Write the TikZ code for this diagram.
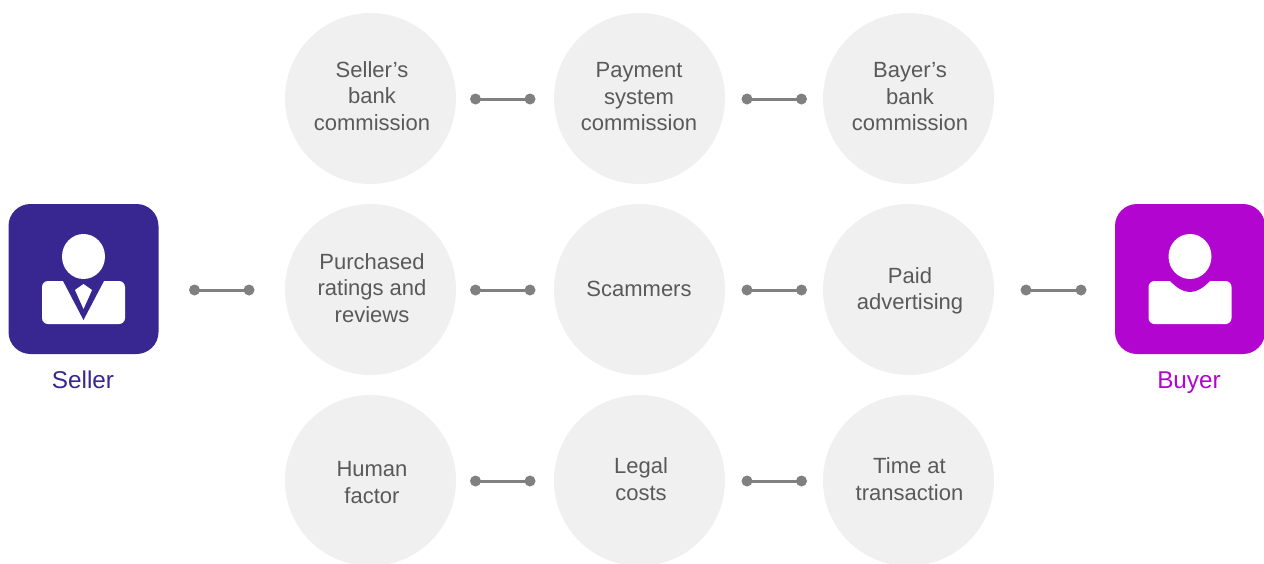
\documentclass[tikz,border=0pt]{standalone}
\usepackage{fontspec}
\setmainfont{Liberation Sans}
\definecolor{sellerc}{HTML}{382791}
\definecolor{buyerc}{HTML}{B205CF}
\definecolor{circc}{HTML}{F0F0F0}
\definecolor{textc}{HTML}{595959}
\definecolor{linkc}{HTML}{808080}
\tikzset{
  x=1pt,y=-1pt,
  bubble/.style={circle,fill=circc,draw=none,minimum size=171pt,inner sep=0pt},
  bubbletext/.style={align=center,text=textc,inner sep=0pt,font=\fontsize{22}{26.5}\selectfont},
  dotend/.style={circle,fill=linkc,draw=none,minimum size=11pt,inner sep=0pt},
  link/.style={draw=linkc,line width=3pt},
  tile/.style={rectangle,rounded corners=22pt,draw=none,minimum size=150pt,inner sep=0pt},
  rolelabel/.style={inner sep=0pt,anchor=base,font=\fontsize{24.3}{28}\selectfont},
}
\begin{document}
\begin{tikzpicture}
\useasboundingbox (0,0) rectangle (1264,563);
\clip (0,0) rectangle (1264,563);
% bubbles
\node[bubble] (c11) at (370.5,98.5) {};
\node[bubble] (c12) at (639.5,98.5) {};
\node[bubble] (c13) at (908.5,98.5) {};
\node[bubble] (c21) at (370.5,289.5) {};
\node[bubble] (c22) at (639.5,289.5) {};
\node[bubble] (c23) at (908.5,289.5) {};
\node[bubble] (c31) at (370.5,480.5) {};
\node[bubble] (c32) at (639.5,480.5) {};
\node[bubble] (c33) at (908.5,480.5) {};
% bubble texts
\node[bubbletext] (t11) at (372,96) {Seller’s\\bank\\commission};
\node[bubbletext] (t12) at (639,97) {Payment\\system\\commission};
\node[bubbletext] (t13) at (910,97) {Bayer’s\\bank\\commission};
\node[bubbletext] (t21) at (372,288) {Purchased\\ratings and\\reviews};
\node[bubbletext] (t22) at (639,289) {Scammers};
\node[bubbletext] (t23) at (910,291) {Paid\\advertising};
\node[bubbletext] (t31) at (372,482.6) {Human\\factor};
\node[bubbletext] (t32) at (641,479) {Legal\\costs};
\node[bubbletext] (t33) at (909.5,479) {Time at\\transaction};
% connectors
\foreach \n/\xa/\xb/\yy in {a/475.5/530/99,b/747/801.5/99,d/194.5/249/290,e/475.5/530/290,f/747/801.5/290,g/1026/1081/290,h/475.5/530/481,i/747/801.5/481}{
  \node[dotend] (\n1) at (\xa,\yy) {};
  \node[dotend] (\n2) at (\xb,\yy) {};
  \draw[link] (\n1.center) -- (\n2.center);
}
% seller
\node[tile,fill=sellerc] (seller) at (83.5,279) {};
\fill[white,rounded corners=6pt] (42,281) rectangle (125,324);
\fill[sellerc] (62,279) -- (83.5,320) -- (105,279) -- cycle;
\fill[white] (83.5,284) -- (92,290) -- (83.5,309) -- (75,290) -- cycle;
\fill[white] (83.5,256.5) ellipse [x radius=21.5, y radius=22.5];
\node[rolelabel,text=sellerc] (sellerlabel) at (83,388) {Seller};
% buyer
\node[tile,fill=buyerc] (buyer) at (1190,279) {};
\fill[white,rounded corners=6pt] (1148.5,281) rectangle (1231.5,324);
\fill[buyerc] (1168,279) -- (1170,281) .. controls (1177,288) and (1183,292) .. (1190,292) .. controls (1197,292) and (1203,288) .. (1210,281) -- (1212,279) -- cycle;
\fill[white] (1190,256.5) ellipse [x radius=21.5, y radius=22.5];
\node[rolelabel,text=buyerc] (buyerlabel) at (1189,388) {Buyer};
\end{tikzpicture}
\end{document}
